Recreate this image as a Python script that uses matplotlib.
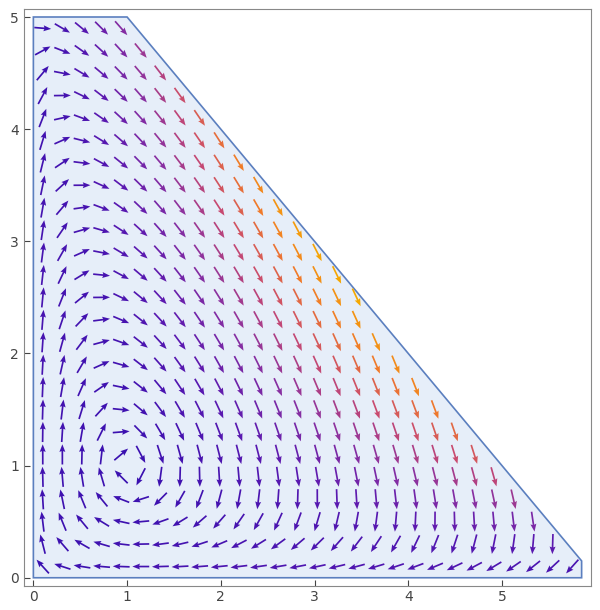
import numpy as np
import matplotlib
matplotlib.use("Agg")
import matplotlib.pyplot as plt
from matplotlib.patches import Polygon

# ---------- DATA ----------
# region boundary (x, y)
region_x = [0, 5.85, 5.85, 1.0, 0]
region_y = [0, 0, 0.15, 5.0, 5.0]
x_ticks = [0, 1, 2, 3, 4, 5]
y_ticks = [0, 1, 2, 3, 4, 5]

# vector field fitted to the arrow directions in the picture
def field(x, y):
    u = x * (y - 1.0) + 0.15 * x * (x - 1.0)
    v = y * (1.0 - 0.2 * y - 0.8 * x ** 1.5)
    return u, v

# ---------- SAMPLE GRID ----------
gx = np.linspace(0.1, 5.75, 28)
gy = np.linspace(0.1, 4.9, 25)
X, Y = np.meshgrid(gx, gy)
X, Y = X.ravel(), Y.ravel()
inside = (X + Y <= 5.95) & (X <= 5.8)
X, Y = X[inside], Y[inside]
U, V = field(X, Y)
speed = np.hypot(U, V)
speed[speed == 0] = 1e-9
Un, Vn = U / speed, V / speed

cmap = matplotlib.colors.LinearSegmentedColormap.from_list(
    "sunset", ["#3a10b0", "#5a18b0", "#8a30a0", "#c84a70", "#f07a2a", "#f5a800"])

fig, ax = plt.subplots(figsize=(6.0, 6.1), dpi=100)
fig.subplots_adjust(left=0.04, right=0.985, top=0.985, bottom=0.04)

ax.add_patch(Polygon(np.column_stack([region_x, region_y]), closed=True,
                     facecolor="#e6eef9", edgecolor="#5b7fbf", lw=1.2, zorder=1))

ax.quiver(X, Y, Un * 0.18, Vn * 0.18, speed, cmap=cmap, angles="xy",
          scale_units="xy", scale=1, pivot="middle", width=0.003,
          headwidth=3.5, headlength=4.5, headaxislength=4, zorder=2)

ax.set_xlim(-0.1, 5.95)
ax.set_ylim(-0.07, 5.07)
ax.set_xticks(x_ticks)
ax.set_yticks(y_ticks)
ax.tick_params(labelsize=10, colors="#444444", direction="in", length=4)
for s in ax.spines.values():
    s.set_color("#888888")

plt.savefig("out.png")
